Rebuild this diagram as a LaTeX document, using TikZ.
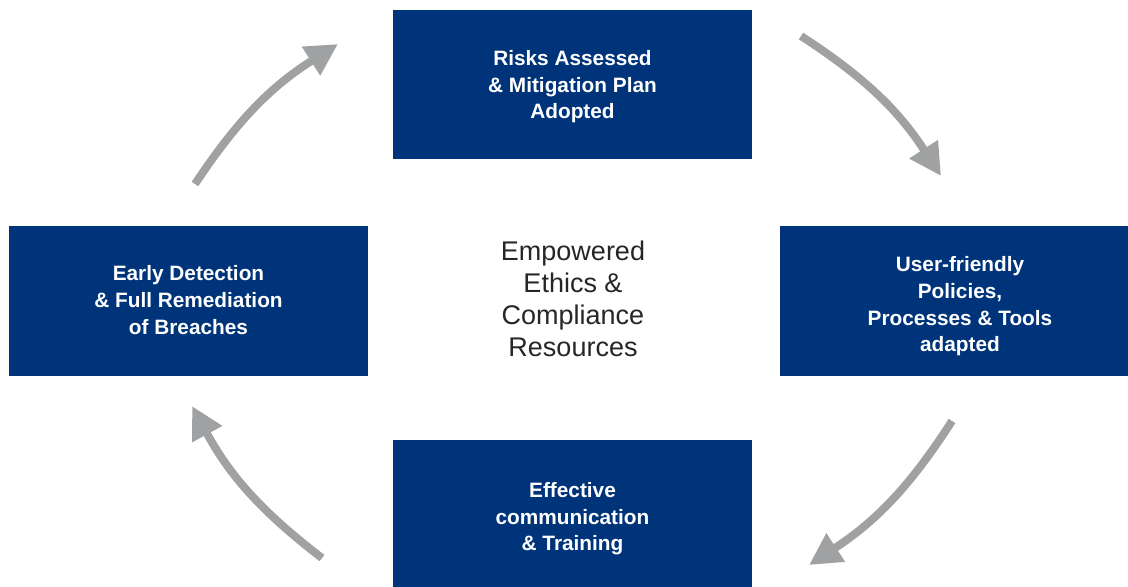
\documentclass[tikz,border=0pt]{standalone}
\usepackage{fontspec}
\setmainfont{Liberation Sans}
\usetikzlibrary{arrows.meta}
\definecolor{navy}{RGB}{0,52,122}
\definecolor{arrowgray}{RGB}{160,161,163}
\definecolor{textgray}{RGB}{38,38,38}
\tikzset{
  stepbox/.style={fill=navy, draw=none, text=white, font=\bfseries\fontsize{10.4}{13.3}\selectfont, align=center, inner sep=0pt},
  cyclearrow/.style={draw=arrowgray, line width=4pt, -{Triangle[length=16pt,width=16pt]}, shorten >=0pt},
}
\begin{document}
\begin{tikzpicture}[x=0.5pt,y=-0.5pt]
\useasboundingbox (0,0) rectangle (1128,586);
\clip (0,0) rectangle (1128,586);
% boxes
\fill[navy] (393,10) rectangle (752,159);
\fill[navy] (9,226) rectangle (368,376);
\fill[navy] (780,226) rectangle (1140,376);
\fill[navy] (393,440) rectangle (752,600);
\node[stepbox] (top) at (572.5,87)
  {Risks Assessed\\ \& Mitigation Plan\\ Adopted};
\node[stepbox] (left) at (188.5,300)
  {Early Detection\\ \& Full Remediation\\ of Breaches};
\node[stepbox] (right) at (960,306.5)
  {User-friendly\\ Policies,\\ Processes \& Tools\\ adapted};
\node[stepbox] (bottom) at (572.5,519)
  {Effective\\ communication\\ \& Training};
% center
\node[text=textgray, font=\fontsize{13.5}{16}\selectfont, align=center] (center) at (573,299)
  {Empowered\\ Ethics \&\\ Compliance\\ Resources};
% arrow end points
\coordinate (a1s) at (195,184);
\coordinate (a1e) at (338,44);
\coordinate (a2s) at (801,36);
\coordinate (a2e) at (941,176);
\coordinate (a3s) at (952,421);
\coordinate (a3e) at (809,565);
\coordinate (a4s) at (322,558);
\coordinate (a4e) at (192,406);
\draw[cyclearrow] (a1s) to[bend left=12] (a1e);
\draw[cyclearrow] (a2s) to[bend left=12] (a2e);
\draw[cyclearrow] (a3s) to[bend left=12] (a3e);
\draw[cyclearrow] (a4s) to[bend left=12] (a4e);
\end{tikzpicture}
\end{document}
